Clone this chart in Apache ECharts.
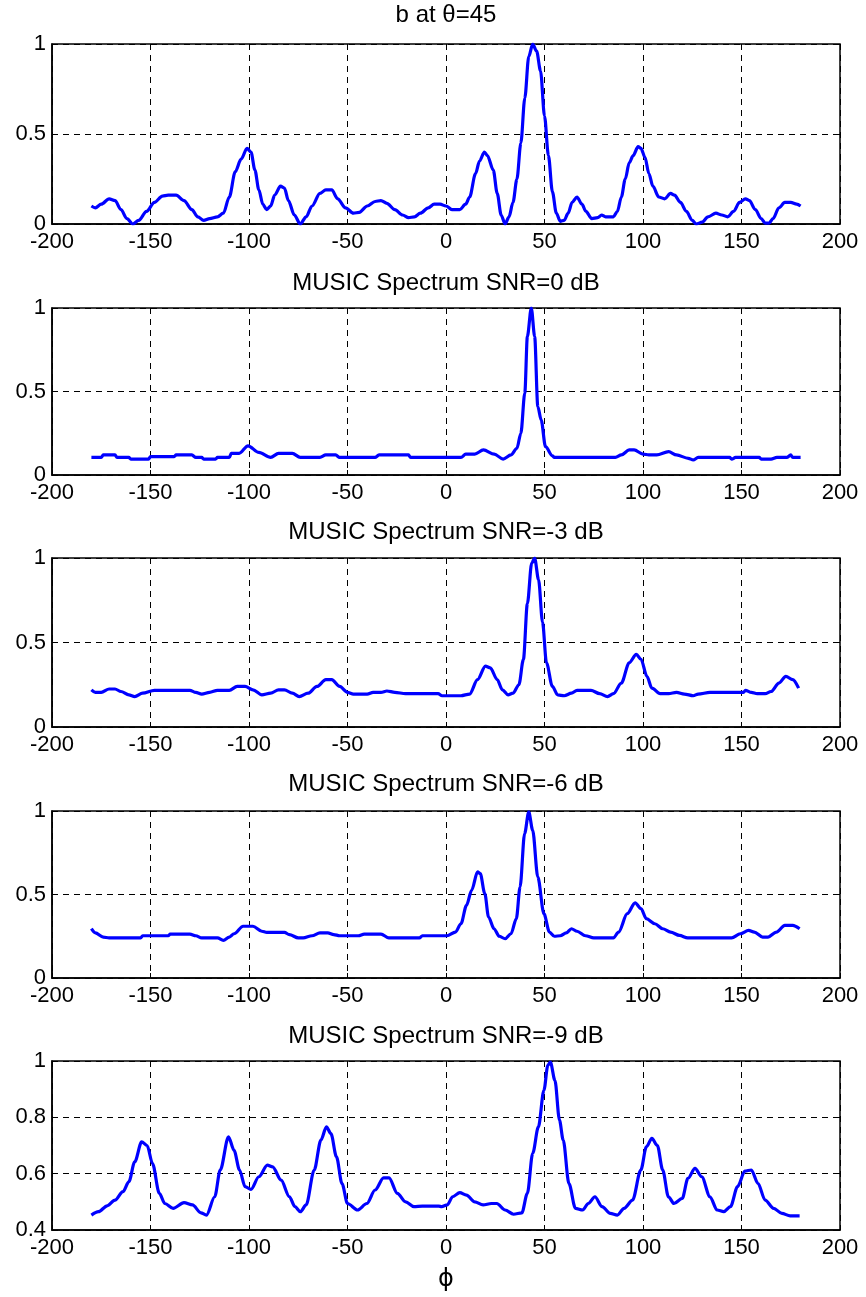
<!DOCTYPE html>
<html>
<head>
<meta charset="utf-8">
<title>MUSIC spectrum</title>
<script src="https://cdn.jsdelivr.net/npm/echarts@6/dist/echarts.min.js"></script>
<style>
  html, body { margin: 0; padding: 0; background: #fff; }
  #chart { width: 866px; height: 1297px; }
</style>
</head>
<body>
<div id="chart"></div>
<script>
// Panel titles
const titles = [
  'b at \u03b8=45',
  'MUSIC Spectrum SNR=0 dB',
  'MUSIC Spectrum SNR=-3 dB',
  'MUSIC Spectrum SNR=-6 dB',
  'MUSIC Spectrum SNR=-9 dB'
];

// Beam pattern at theta = 45
const phiB = [-180,-178,-175,-171,-168,-165,-162,-159,-156,-152,-148,-144,-141,-137,-133,-129,-126,-123,-120,-116,-113,-110,-107,-104,-101,-99,-97,-95,-93,-91,-89,-87,-84,-82,-80,-77,-74,-71,-68,-64,-61,-58,-55,-51,-47,-44,-40,-36,-33,-30,-26,-22,-19,-16,-13,-9,-6,-3,0,3,7,10,12,15,17,19.5,21,24,26,28,30,32,34,36,38,40,42,44,46,48,50,52,54,56,58,60,62,64,66.5,69,71,74,77,79,81,85,87,89,91,93,95,97.5,99,101,103,105,108,111,114,116,119,122,125,127,130,133,137,140,143,146,149,152,154,157,160,162,164,166,169,172,175,178,180];
const valB = [0.10,0.09,0.11,0.14,0.13,0.08,0.03,0.0,0.02,0.07,0.12,0.155,0.16,0.16,0.13,0.08,0.04,0.02,0.03,0.04,0.06,0.15,0.29,0.36,0.42,0.40,0.30,0.19,0.11,0.08,0.10,0.16,0.21,0.20,0.13,0.05,0.0,0.04,0.10,0.17,0.19,0.19,0.14,0.09,0.06,0.065,0.10,0.125,0.13,0.115,0.08,0.05,0.035,0.04,0.06,0.09,0.11,0.11,0.10,0.08,0.08,0.11,0.15,0.28,0.35,0.40,0.38,0.30,0.17,0.05,0.0,0.04,0.12,0.25,0.45,0.70,0.93,1.0,0.96,0.85,0.60,0.38,0.18,0.06,0.015,0.02,0.06,0.12,0.15,0.11,0.07,0.03,0.035,0.05,0.04,0.04,0.07,0.15,0.25,0.34,0.38,0.43,0.42,0.37,0.28,0.21,0.15,0.14,0.17,0.16,0.12,0.07,0.02,0.0,0.01,0.04,0.06,0.05,0.04,0.07,0.12,0.14,0.13,0.08,0.03,0.005,0.005,0.03,0.09,0.12,0.12,0.11,0.10];

// MUSIC spectrum, SNR = 0 dB
const phi0 = [-180,-175,-174,-168,-167,-161,-160,-151,-150,-138,-137,-129,-127,-124,-123,-117,-116,-110,-109,-105,-100.5,-95,-89,-85,-78,-74,-64,-61,-56,-54,-36,-34,-19,-18,7.6,10,14.6,19,24.5,29,33,36,38,40,41.3,43.3,45,46.6,48.3,50.5,54,55,86,89,93,95.5,100,103,107,113,117,123,125.5,128,144,145,147,159,160,165,168,173,175,176,180];
const val0 = [0.105,0.105,0.12,0.12,0.105,0.105,0.095,0.095,0.11,0.11,0.12,0.12,0.105,0.105,0.095,0.095,0.105,0.105,0.13,0.13,0.175,0.135,0.105,0.13,0.13,0.105,0.105,0.12,0.12,0.105,0.105,0.12,0.12,0.105,0.105,0.125,0.125,0.15,0.125,0.095,0.12,0.16,0.25,0.49,0.83,1.0,0.83,0.41,0.33,0.17,0.115,0.105,0.105,0.12,0.15,0.15,0.125,0.12,0.12,0.14,0.12,0.10,0.09,0.105,0.105,0.095,0.105,0.105,0.095,0.095,0.105,0.105,0.12,0.105,0.105];

// MUSIC spectrum, SNR = -3 dB
const phi3 = [-180,-178,-175,-171,-168,-165,-161,-158,-154,-148,-130,-127,-124,-120,-116,-110,-106,-102,-98,-93.5,-89,-85,-82,-78,-74.5,-70,-65.5,-61,-58,-54,-50,-47,-40,-37,-33,-30,-26,-20.5,-4,-2,7.6,12,16,20,22.5,26,28.6,31.5,34,37,39.3,41.3,43.5,45,47,49,51,54,56.7,60,63.7,66.5,73.6,78,82,85,89,93,96.6,99,102,104.5,108.7,113,117,121,125.5,128,134,151,152,155,158,162,165,169,172.5,176,179];
const val3 = [0.22,0.205,0.205,0.225,0.225,0.21,0.19,0.18,0.20,0.217,0.217,0.205,0.195,0.205,0.217,0.217,0.24,0.24,0.22,0.19,0.20,0.22,0.22,0.20,0.18,0.20,0.24,0.28,0.28,0.24,0.205,0.195,0.195,0.205,0.205,0.213,0.205,0.197,0.197,0.185,0.185,0.195,0.28,0.36,0.35,0.28,0.22,0.19,0.20,0.25,0.40,0.73,0.97,1.0,0.87,0.62,0.38,0.24,0.19,0.185,0.20,0.217,0.217,0.197,0.18,0.197,0.26,0.38,0.43,0.40,0.30,0.23,0.197,0.197,0.205,0.195,0.185,0.195,0.205,0.205,0.217,0.205,0.197,0.197,0.21,0.26,0.30,0.28,0.23];

// MUSIC spectrum, SNR = -6 dB
const phi6 = [-180,-178,-174,-171,-155,-154,-141,-140,-130,-127,-124,-116,-113,-110,-107.6,-103,-98,-93.5,-91,-82,-79.5,-75,-72.5,-68,-64,-60,-57,-54,-44.5,-41.5,-33,-29,-13.5,-12,0.5,4.8,7.6,10.4,13,16,17.4,19.7,21.6,24.4,27,30,33,35.7,37.6,39.9,42,44,46.6,49.7,52.5,55,58,61,63.7,66.5,70.8,75,85,87.6,92,96,99,101.7,106,110,114,118.5,122.7,145,149.4,153.6,156.5,160.7,163.5,167.7,172,176,179.5];
const val6 = [0.295,0.27,0.245,0.24,0.24,0.253,0.253,0.263,0.263,0.253,0.24,0.24,0.225,0.245,0.265,0.31,0.31,0.28,0.273,0.273,0.26,0.24,0.24,0.253,0.27,0.27,0.26,0.253,0.253,0.263,0.263,0.24,0.24,0.253,0.253,0.275,0.325,0.435,0.525,0.635,0.625,0.505,0.365,0.295,0.25,0.235,0.265,0.355,0.545,0.865,0.995,0.885,0.605,0.385,0.275,0.25,0.253,0.27,0.295,0.28,0.253,0.24,0.24,0.275,0.385,0.45,0.415,0.355,0.325,0.295,0.275,0.255,0.24,0.24,0.265,0.285,0.275,0.245,0.245,0.275,0.315,0.315,0.295];

// MUSIC spectrum, SNR = -9 dB
const phi9 = [-180,-176.4,-172,-168,-164,-161,-158,-154.5,-151.7,-149,-145.5,-142.7,-138.5,-133,-128.7,-124.4,-121.6,-117.4,-114.6,-110.4,-107.6,-104.8,-102,-99,-95,-90.7,-88,-83.7,-79.5,-76.7,-73.9,-71,-66.9,-63.5,-60.7,-58.4,-55.6,-52.8,-50,-44.9,-40.2,-36,-31.7,-28.9,-24.7,-20.5,-16.3,-12,-3.7,-2.2,0.6,3.4,7,10.4,14.6,18.8,23,25.8,30,34.3,38.5,41.3,44,46.9,49.7,51.7,53,55.3,57.6,59.5,62.4,65.7,69.4,72.2,75.6,79.2,83.4,87,90.4,94.7,98.9,101.7,104.5,107.3,110,112.9,115.7,119.9,122.8,126.4,129.8,134,137.6,141,144.4,148,151.7,155,158.4,162,166.3,170.5,174.7,179.5];
const val9 = [0.453,0.465,0.486,0.506,0.536,0.571,0.642,0.713,0.70,0.636,0.53,0.494,0.477,0.497,0.489,0.461,0.453,0.518,0.613,0.731,0.683,0.613,0.554,0.544,0.589,0.63,0.624,0.577,0.518,0.483,0.465,0.489,0.613,0.719,0.766,0.742,0.66,0.565,0.494,0.471,0.494,0.542,0.585,0.585,0.53,0.50,0.483,0.485,0.485,0.483,0.489,0.518,0.533,0.524,0.50,0.489,0.494,0.494,0.471,0.456,0.461,0.53,0.672,0.766,0.896,0.985,0.996,0.931,0.79,0.719,0.565,0.477,0.471,0.494,0.518,0.483,0.459,0.453,0.477,0.506,0.613,0.695,0.725,0.70,0.613,0.518,0.494,0.512,0.583,0.619,0.589,0.518,0.471,0.465,0.483,0.554,0.609,0.613,0.565,0.506,0.477,0.459,0.45,0.45];

const panelPhi = [phiB, phi0, phi3, phi6, phi9];
const panelVal = [valB, val0, val3, val6, val9];

// y-axis ranges per panel
const yMin = [0, 0, 0, 0, 0.4];
const yStep = [0.5, 0.5, 0.5, 0.5, 0.2];

// x-axis range
const xMin = -200, xMax = 200, xStep = 50;

// panel placement (px)
const plotLeft = 52, plotRight = 26;
const plotTop = [44, 308, 558, 811, 1061];
const plotHeight = [180, 167, 169, 167, 169];
const titleTop = [2, 270, 519, 771, 1023];

const FONT = '"Liberation Sans", Arial, Helvetica, sans-serif';
const gridDash = { color: '#000', width: 1, type: [6, 5] };

const option = {
  backgroundColor: '#fff',
  animation: false,
  title: titles.map((t, i) => ({
    text: t,
    left: 446,
    top: titleTop[i],
    textAlign: 'center',
    padding: 0,
    textStyle: { fontFamily: FONT, fontSize: 24, fontWeight: 'normal', color: '#000', lineHeight: 26 }
  })),
  grid: plotTop.map((top, i) => ({
    left: plotLeft, right: plotRight, top: top, height: plotHeight[i],
    show: true, borderColor: '#000', borderWidth: 1.5, backgroundColor: '#fff'
  })),
  xAxis: [],
  yAxis: [],
  series: []
};

for (let i = 0; i < 5; i++) {
  // bottom x axis with labels and grid
  option.xAxis.push({
    type: 'value', gridIndex: i, min: xMin, max: xMax, interval: xStep,
    axisLine: { show: true, onZero: false, lineStyle: { color: '#000', width: 1.5 } },
    axisTick: { show: true, inside: true, length: 5, lineStyle: { color: '#000' } },
    axisLabel: { color: '#000', fontFamily: FONT, fontSize: 22, margin: 7 },
    splitLine: { show: true, lineStyle: gridDash },
    name: i === 4 ? '\u03d5' : '',
    nameLocation: 'middle',
    nameGap: 38,
    nameTextStyle: { color: '#000', fontFamily: '"DejaVu Sans", ' + FONT, fontSize: 24 }
  });
  // top x axis: tick marks only
  option.xAxis.push({
    type: 'value', gridIndex: i, position: 'top', min: xMin, max: xMax, interval: xStep,
    axisLine: { show: false, onZero: false },
    axisTick: { show: true, inside: true, length: 5, lineStyle: { color: '#000' } },
    axisLabel: { show: false },
    splitLine: { show: false }
  });
  const yMax = 1;
  option.yAxis.push({
    type: 'value', gridIndex: i, min: yMin[i], max: yMax, interval: yStep[i],
    axisLine: { show: true, onZero: false, lineStyle: { color: '#000', width: 1.5 } },
    axisTick: { show: true, inside: true, length: 5, lineStyle: { color: '#000' } },
    axisLabel: {
      color: '#000', fontFamily: FONT, fontSize: 22, margin: 6,
      formatter: v => String(Math.round(v * 10) / 10)
    },
    splitLine: { show: true, lineStyle: gridDash }
  });
  option.yAxis.push({
    type: 'value', gridIndex: i, position: 'right', min: yMin[i], max: yMax, interval: yStep[i],
    axisLine: { show: false, onZero: false },
    axisTick: { show: true, inside: true, length: 5, lineStyle: { color: '#000' } },
    axisLabel: { show: false },
    splitLine: { show: false }
  });

  option.series.push({
    type: 'line',
    xAxisIndex: 2 * i,
    yAxisIndex: 2 * i,
    data: panelPhi[i].map((p, k) => [p, panelVal[i][k]]),
    showSymbol: false,
    smooth: 0.3,
    smoothMonotone: 'x',
    lineStyle: { color: '#0000ff', width: 3.2 },
    itemStyle: { color: '#0000ff' },
    z: 5
  });
}

const chart = echarts.init(document.getElementById('chart'), null, { renderer: 'canvas' });
chart.setOption(option);
</script>
</body>
</html>
